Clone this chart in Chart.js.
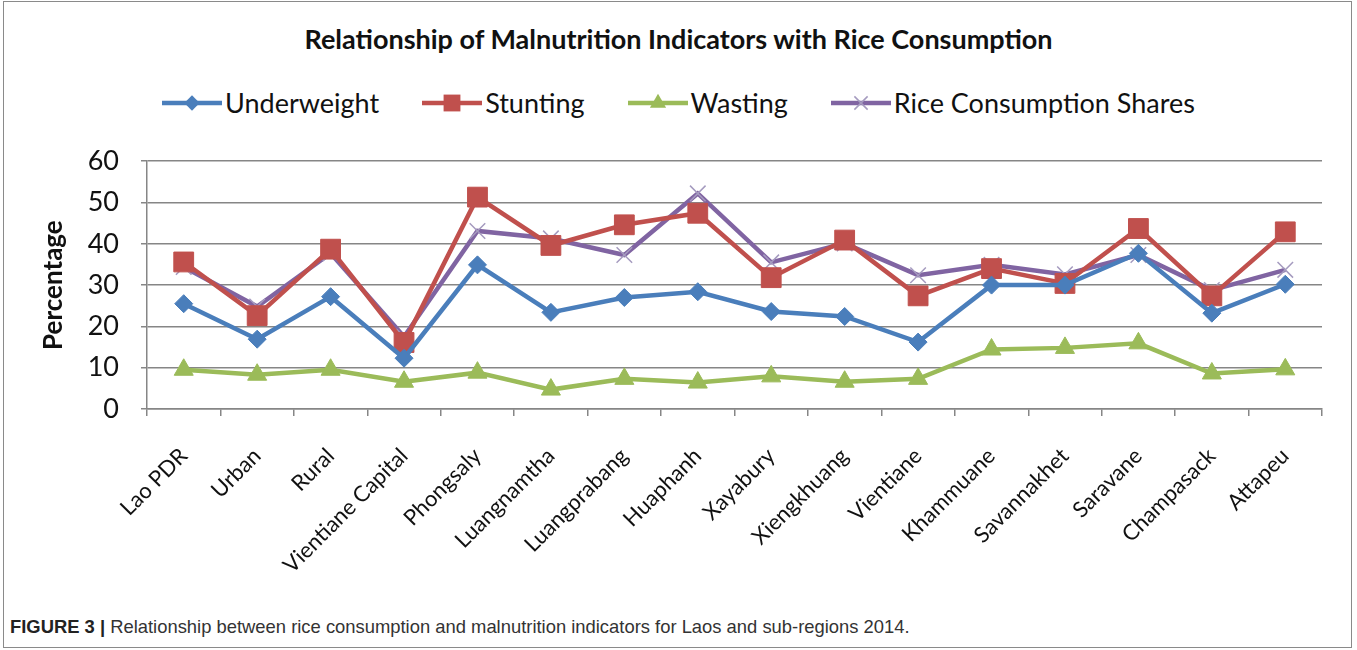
<!DOCTYPE html>
<html>
<head>
<meta charset="utf-8">
<script src="https://cdn.jsdelivr.net/npm/chart.js@4"></script>
<style>
    body { margin: 0; width: 1357px; height: 650px; background: #fff; overflow: hidden; font-family: Lato, sans-serif; }
    #marco { position: absolute; left: 3px; top: 1px; width: 1349px; height: 647px; border: 1.5px solid #8a8a8a; box-sizing: border-box; }
    #titulo { position: absolute; left: 0; top: 22px; width: 1357px; text-align: center; font: bold 27px Lato, sans-serif; color: #111; }
    #leyenda { position: absolute; left: 0; top: 86px; width: 1357px; display: flex; justify-content: center; gap: 43px; font: 27px Lato, sans-serif; color: #111; }
    .item { display: flex; align-items: center; }
    .item span { margin-left: 3px; }
    #caja { position: absolute; left: 0; top: 123px; width: 1357px; height: 477px; }
    #pie { position: absolute; left: 10px; top: 616px; font: 18.4px "Liberation Sans", sans-serif; color: #333; }
    #pie b { color: #222; }
</style>
</head>
<body>
<div id="marco"></div>
<div id="titulo">Relationship of Malnutrition Indicators with Rice Consumption</div>
<div id="leyenda"></div>
<div id="caja"><canvas id="graficoLineas"></canvas></div>
<div id="pie"><b>FIGURE 3 |</b> Relationship between rice consumption and malnutrition indicators for Laos and sub-regions 2014.</div>
<script>
// regiones y porcentajes por indicador (2014)
const regiones = ['Lao PDR', 'Urban', 'Rural', 'Vientiane Capital', 'Phongsaly', 'Luangnamtha', 'Luangprabang', 'Huaphanh',
    'Xayabury', 'Xiengkhuang', 'Vientiane', 'Khammuane', 'Savannakhet', 'Saravane', 'Champasack', 'Attapeu'];
const underweight = [25.5, 16.9, 27.2, 12.3, 34.9, 23.4, 27.0, 28.4, 23.6, 22.4, 16.2, 30.0, 30.0, 37.7, 23.2, 30.2];
const stunting = [35.6, 22.6, 38.7, 16.1, 51.3, 39.6, 44.6, 47.4, 31.8, 40.9, 27.4, 34.0, 30.4, 43.7, 27.4, 42.9];
const wasting = [9.5, 8.3, 9.5, 6.6, 8.8, 4.7, 7.3, 6.4, 7.9, 6.6, 7.3, 14.4, 14.8, 15.9, 8.6, 9.6];
const arroz = [34.4, 24.8, 37.7, 17.5, 43.1, 41.3, 37.3, 52.2, 35.5, 40.1, 32.4, 34.9, 32.6, 37.3, 28.8, 33.7];
const yTicks = [0, 10, 20, 30, 40, 50, 60];

const series = [
    { label: 'Underweight', data: underweight, color: '#4A7EBB', marca: 'rectRot', radio: 9, borde: '#4A7EBB' },
    { label: 'Stunting', data: stunting, color: '#C0504D', marca: 'rect', radio: 14, borde: '#C0504D' },
    { label: 'Wasting', data: wasting, color: '#9BBB59', marca: 'triangle', radio: 11, borde: '#9BBB59' },
    { label: 'Rice Consumption Shares', data: arroz, color: '#8064A2', marca: 'crossRot', radio: 11, borde: '#A59BBF' }
];

// icono de leyenda: linea con marcador al centro
function dibujarIcono(s) {
    const c = document.createElement('canvas');
    c.width = 60; c.height = 26;
    const g = c.getContext('2d');
    g.strokeStyle = s.color; g.lineWidth = 4.5;
    g.beginPath(); g.moveTo(0, 13); g.lineTo(60, 13); g.stroke();
    g.fillStyle = s.color;
    const r = s.radio * 0.85;
    g.beginPath();
    if (s.marca === 'rectRot') {
        g.moveTo(30, 13 - r); g.lineTo(30 + r, 13); g.lineTo(30, 13 + r); g.lineTo(30 - r, 13); g.closePath(); g.fill();
    } else if (s.marca === 'rect') {
        const m = r * Math.SQRT1_2;
        g.fillRect(30 - m, 13 - m, 2 * m, 2 * m);
    } else if (s.marca === 'triangle') {
        g.moveTo(30, 13 - r); g.lineTo(30 + r * 0.866, 13 + r / 2); g.lineTo(30 - r * 0.866, 13 + r / 2); g.closePath(); g.fill();
    } else {
        const m = r * Math.SQRT1_2;
        g.strokeStyle = s.borde; g.lineWidth = 1.5;
        g.moveTo(30 - m, 13 - m); g.lineTo(30 + m, 13 + m);
        g.moveTo(30 + m, 13 - m); g.lineTo(30 - m, 13 + m); g.stroke();
    }
    return c;
}

const leyenda = document.getElementById('leyenda');
series.forEach(s => {
    const item = document.createElement('div');
    item.className = 'item';
    item.appendChild(dibujarIcono(s));
    const txt = document.createElement('span');
    txt.textContent = s.label;
    item.appendChild(txt);
    leyenda.appendChild(item);
});

const ctx = document.getElementById('graficoLineas').getContext('2d');
new Chart(ctx, {
    type: 'line',
    data: {
        labels: regiones,
        datasets: series.map(s => ({
            label: s.label,
            data: s.data,
            borderColor: s.color,
            backgroundColor: s.color,
            borderWidth: 4.5,
            fill: false,
            tension: 0,
            pointStyle: s.marca,
            pointRadius: s.radio,
            pointBorderColor: s.borde,
            pointBackgroundColor: s.color,
            pointBorderWidth: s.marca === 'crossRot' ? 1.5 : 1
        }))
    },
    options: {
        responsive: true,
        maintainAspectRatio: false,
        animation: false,
        // el margen superior lo fija el padding de las etiquetas del eje y
        layout: { padding: { left: 38, right: 35, top: 0, bottom: 11 } },
        plugins: {
            legend: { display: false },
            tooltip: { enabled: false }
        },
        scales: {
            x: {
                offset: true,
                grid: { offset: true, drawOnChartArea: false, color: '#868686', lineWidth: 1.5, tickLength: 7 },
                border: { color: '#868686', width: 1.5 },
                ticks: { minRotation: 45, maxRotation: 45, autoSkip: false, color: '#111', padding: 27,
                    font: { family: 'Lato', size: 22 } },
                afterFit: scale => { scale.height = 180; }
            },
            y: {
                min: 0,
                max: 60,
                afterBuildTicks: scale => { scale.ticks = yTicks.map(v => ({ value: v })); },
                grid: { color: '#868686', lineWidth: 1.5, tickLength: 6 },
                border: { color: '#868686', width: 1.5 },
                ticks: { color: '#111', padding: 22, font: { family: 'Lato', size: 27 } },
                title: {
                    display: true,
                    text: 'Percentage',
                    color: '#111',
                    padding: { top: 0, bottom: 0 },
                    font: { family: 'Lato', size: 26, weight: 'bold' }
                },
                afterFit: scale => { scale.width = 109; }
            }
        }
    }
});
</script>
</body>
</html>
